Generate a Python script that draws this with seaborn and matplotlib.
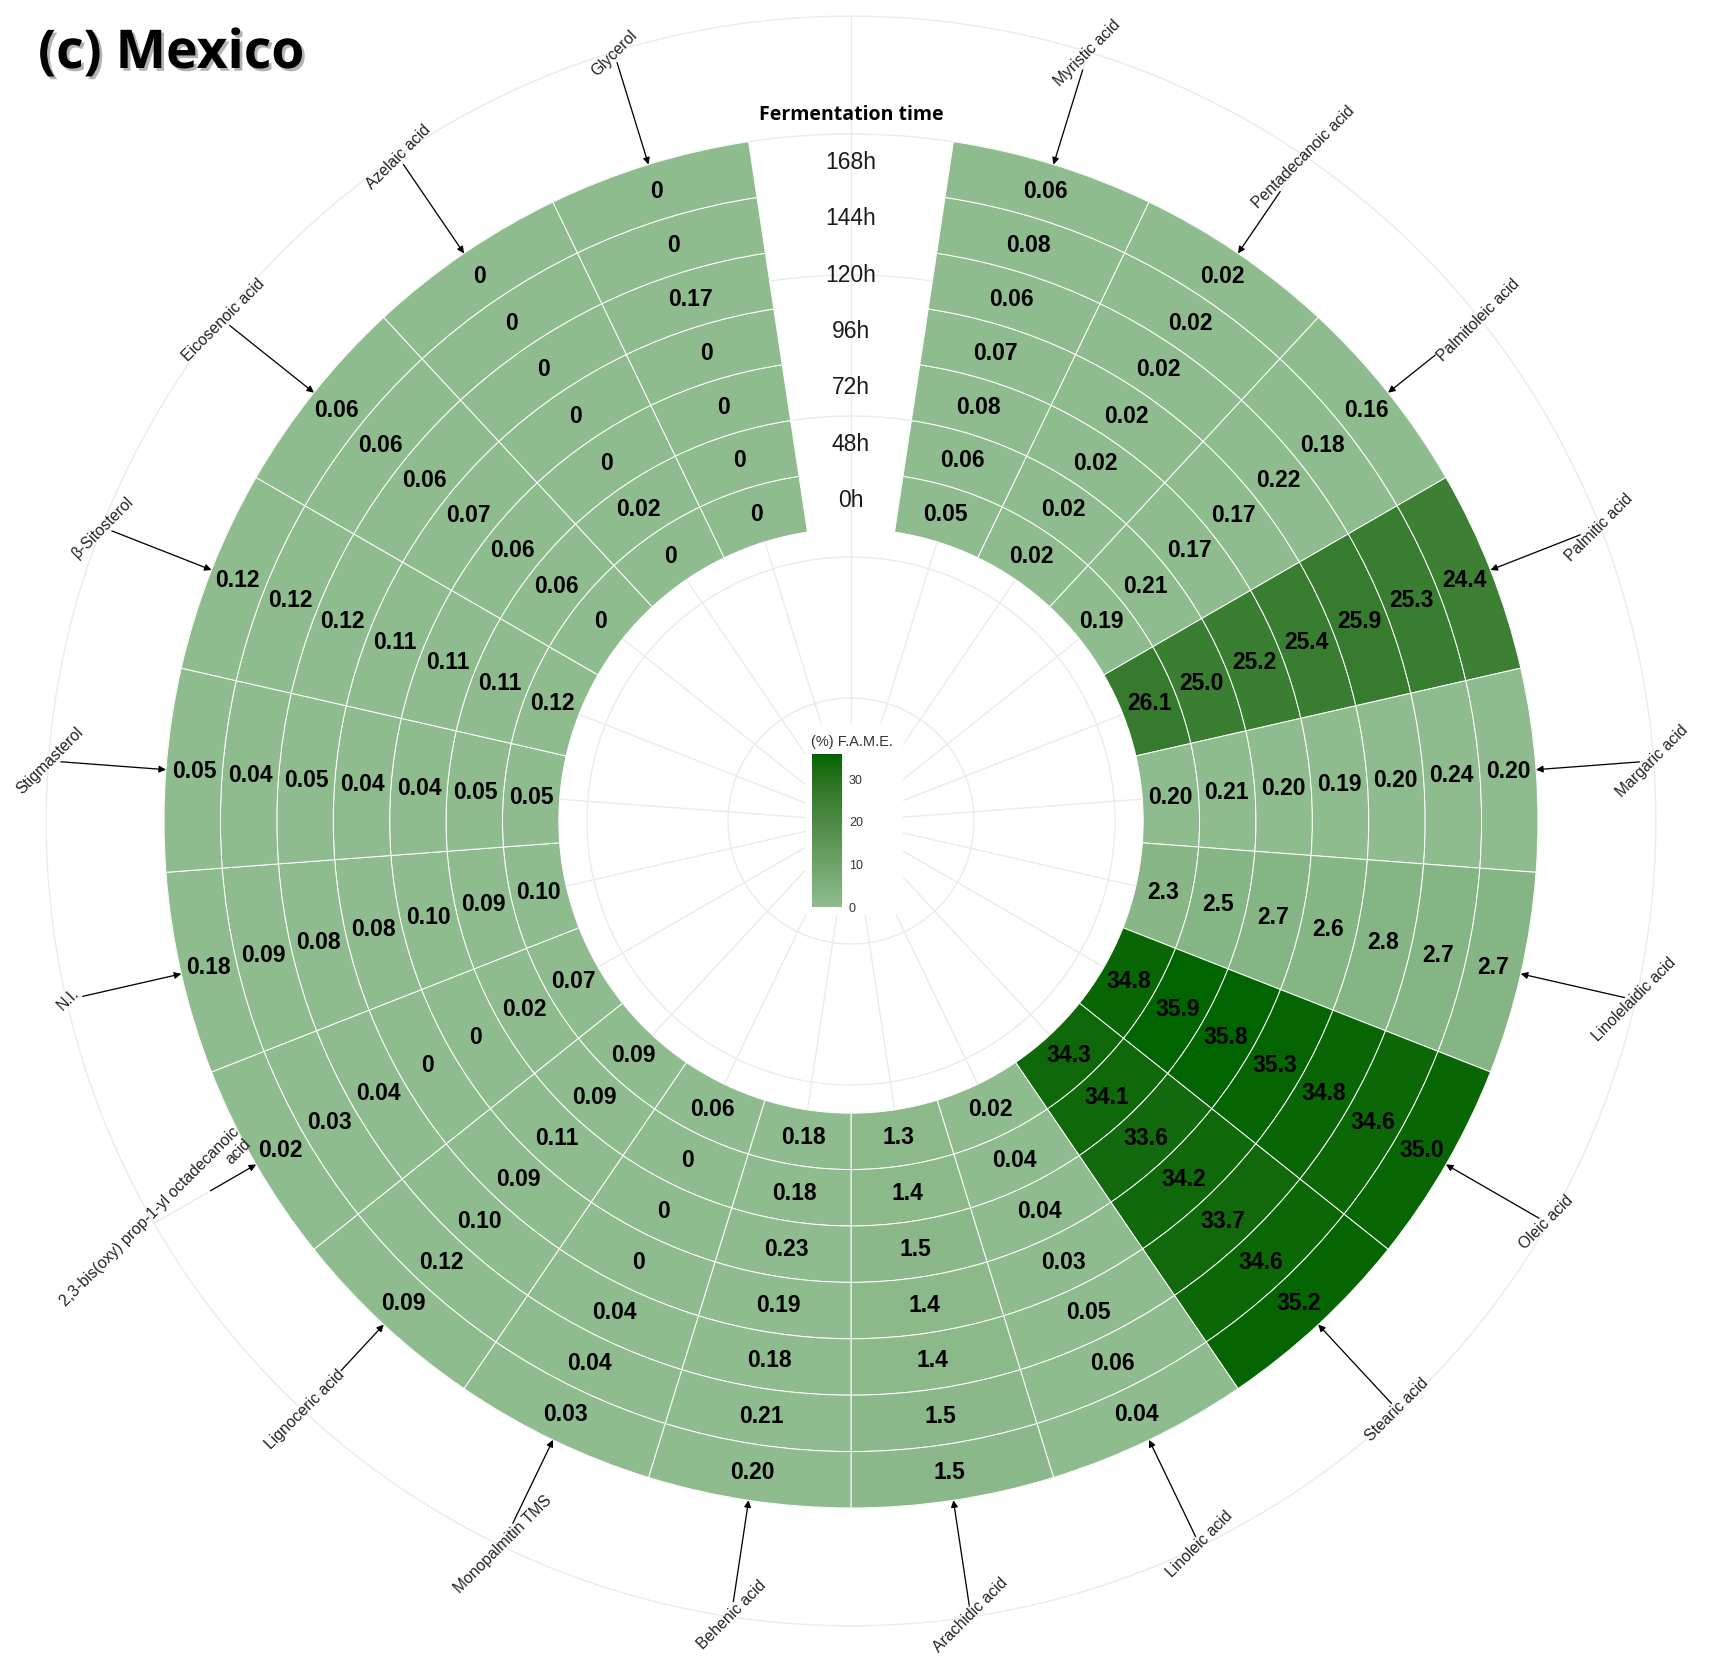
import numpy as np
import pandas as pd
import matplotlib
matplotlib.use("Agg")
import matplotlib.pyplot as plt
import matplotlib.patheffects as pe
from matplotlib.colors import Normalize, ListedColormap
from matplotlib.cm import ScalarMappable
from matplotlib.patches import Rectangle
import seaborn as sns

# fermentation times, inner ring -> outer ring
hours = ["0h", "48h", "72h", "96h", "120h", "144h", "168h"]

# compounds clockwise from the top gap
compounds = ["Myristic acid", "Pentadecanoic acid", "Palmitoleic acid", "Palmitic acid",
             "Margaric acid", "Linolelaidic acid", "Oleic acid", "Stearic acid",
             "Linoleic acid", "Arachidic acid", "Behenic acid", "Monopalmitin TMS",
             "Lignoceric acid", "2,3-bis(oxy) prop-1-yl octadecanoic\nacid", "N.I.",
             "Stigmasterol", "β-Sitosterol", "Eicosenoic acid", "Azelaic acid", "Glycerol"]

# % F.A.M.E. per compound, 0h -> 168h
myristic = [0.05, 0.06, 0.08, 0.07, 0.06, 0.08, 0.06]
pentadecanoic = [0.02, 0.02, 0.02, 0.02, 0.02, 0.02, 0.02]
palmitoleic = [0.19, 0.21, 0.17, 0.17, 0.22, 0.18, 0.16]
palmitic = [26.1, 25.0, 25.2, 25.4, 25.9, 25.3, 24.4]
margaric = [0.20, 0.21, 0.20, 0.19, 0.20, 0.24, 0.20]
linolelaidic = [2.3, 2.5, 2.7, 2.6, 2.8, 2.7, 2.7]
oleic = [34.8, 35.9, 35.8, 35.3, 34.8, 34.6, 35.0]
stearic = [34.3, 34.1, 33.6, 34.2, 33.7, 34.6, 35.2]
linoleic = [0.02, 0.04, 0.04, 0.03, 0.05, 0.06, 0.04]
arachidic = [1.3, 1.4, 1.5, 1.4, 1.4, 1.5, 1.5]
behenic = [0.18, 0.18, 0.23, 0.19, 0.18, 0.21, 0.20]
monopalmitin = [0.06, 0, 0, 0, 0.04, 0.04, 0.03]
lignoceric = [0.09, 0.09, 0.11, 0.09, 0.10, 0.12, 0.09]
bisoxy = [0.07, 0.02, 0, 0, 0.04, 0.03, 0.02]
not_identified = [0.10, 0.09, 0.10, 0.08, 0.08, 0.09, 0.18]
stigmasterol = [0.05, 0.05, 0.04, 0.04, 0.05, 0.04, 0.05]
sitosterol = [0.12, 0.11, 0.11, 0.11, 0.12, 0.12, 0.12]
eicosenoic = [0, 0.06, 0.06, 0.07, 0.06, 0.06, 0.06]
azelaic = [0, 0.02, 0, 0, 0, 0, 0]
glycerol = [0, 0, 0, 0, 0.17, 0, 0]

values = [myristic, pentadecanoic, palmitoleic, palmitic, margaric, linolelaidic,
          oleic, stearic, linoleic, arachidic, behenic, monopalmitin, lignoceric,
          bisoxy, not_identified, stigmasterol, sitosterol, eicosenoic, azelaic, glycerol]

sns.set_theme(style="white")
plt.rcParams["font.family"] = ["Liberation Sans", "DejaVu Sans"]

rows = []
for i, (name, vals) in enumerate(zip(compounds, values)):
    for j, v in enumerate(vals):
        rows.append({"compound": name, "slot": i + 1, "ring": j, "hour": hours[j], "value": v})
df = pd.DataFrame(rows)

n_slots = len(compounds) + 1          # one empty slot gives the gap at the top
step = 2 * np.pi / n_slots
df["theta"] = df["slot"] * step

HOLE = -5.18
R_MAX = 9.3
R_OUT = 9.09
R_LABEL = 9.06


# gradient interpolated in CIELAB, like ggplot's scale_fill_gradient
M = np.array([[0.4124, 0.3576, 0.1805], [0.2126, 0.7152, 0.0722], [0.0193, 0.1192, 0.9505]])
WHITE = np.array([0.95047, 1.0, 1.08883])


def to_lab(rgb):
    c = np.asarray(rgb, float)
    lin = np.where(c > 0.04045, ((c + 0.055) / 1.055) ** 2.4, c / 12.92)
    xyz = M @ lin / WHITE
    f = np.where(xyz > (6 / 29) ** 3, np.cbrt(xyz), xyz / (3 * (6 / 29) ** 2) + 4 / 29)
    return np.array([116 * f[1] - 16, 500 * (f[0] - f[1]), 200 * (f[1] - f[2])])


def from_lab(lab):
    fy = (lab[0] + 16) / 116
    f = np.array([fy + lab[1] / 500, fy, fy - lab[2] / 200])
    xyz = np.where(f > 6 / 29, f ** 3, 3 * (6 / 29) ** 2 * (f - 4 / 29)) * WHITE
    lin = np.linalg.solve(M, xyz)
    c = np.where(lin > 0.0031308, 1.055 * np.clip(lin, 0, None) ** (1 / 2.4) - 0.055, 12.92 * lin)
    return np.clip(c, 0, 1)


low, high = sns.color_palette(["#8FBC8F", "#006400"])
lab_lo, lab_hi = to_lab(low), to_lab(high)
cmap = ListedColormap([from_lab(lab_lo + t * (lab_hi - lab_lo)) for t in np.linspace(0, 1, 256)])
norm = Normalize(0, df["value"].max())


def fmt(v):
    if v == 0:
        return "0"
    return f"{v:.1f}" if v >= 1 else f"{v:.2f}"


fig = plt.figure(figsize=(17.11, 16.72), dpi=100)
fig.patch.set_facecolor("white")
ax = fig.add_axes([0.02005, 0.02052, 0.95465, 0.97691], projection="polar")
ax.set_theta_zero_location("N")
ax.set_theta_direction(-1)
ax.set_ylim(HOLE, R_MAX)
ax.grid(False)
ax.set_xticks([])
ax.set_yticks([])
ax.spines["polar"].set_visible(False)
ax.set_facecolor("white")

# background grid
circ = np.linspace(0, 2 * np.pi, 600)
for r in [-3, -0.5, 2, 4.5, 7, R_OUT]:
    ax.plot(circ, np.full_like(circ, r), color="#ebebeb", lw=1.0, zorder=0)
for k in range(n_slots):
    ax.plot([k * step, k * step], [HOLE, R_OUT], color="#ebebeb", lw=1.0, zorder=0)

# tiles
ax.bar(df["theta"], 1, width=step, bottom=df["ring"], align="center",
       color=cmap(norm(df["value"])), edgecolor="white", linewidth=0.7, zorder=2)

for _, row in df.iterrows():
    ax.text(row["theta"], row["ring"] + 0.5, fmt(row["value"]), ha="center", va="center",
            fontsize=16.5, fontweight="bold", color="black", zorder=4)

# hour labels in the gap
for j, h in enumerate(hours):
    ax.text(0, j + 0.5, h, ha="center", va="center", fontsize=16.5, color="#1a1a1a", zorder=4)
ax.text(0, 7.34, "Fermentation time", ha="center", va="center", fontsize=14,
        fontweight="bold", family=["Open Sans", "DejaVu Sans"], color="black", zorder=4)

# compound labels; arrows stop at the edge of the rotated label box
labels = []
for i, name in enumerate(compounds):
    th = (i + 1) * step
    t = ax.text(th, R_LABEL, name, rotation=0, rotation_mode="anchor", ha="center",
                va="center", multialignment="right", fontsize=11.3, color="#222222", zorder=5)
    labels.append((th, t))

fig.canvas.draw()
renderer = fig.canvas.get_renderer()
px_per_unit = ax.bbox.width / 2 / (R_MAX - HOLE)
for th, t in labels:
    bb = t.get_window_extent(renderer)
    hw, hh = bb.width / 2, bb.height / 2
    t.set_rotation(45)
    delta = np.radians(90 - np.degrees(th) - 45)
    c, s = abs(np.cos(delta)), abs(np.sin(delta))
    d = min(hw / c if c > 1e-6 else np.inf, hh / s if s > 1e-6 else np.inf) + 1
    ax.annotate("", xy=(th, 7.0), xytext=(th, R_LABEL - d / px_per_unit),
                arrowprops=dict(arrowstyle="-|>", color="black", lw=0.9,
                                mutation_scale=10, shrinkA=0, shrinkB=0), zorder=5)

# legend in the hole
bg = Rectangle((805 / 1711, (1672 - 915) / 1672), 98 / 1711, 191 / 1672,
               transform=fig.transFigure, facecolor="white", edgecolor="none", zorder=1)
fig.add_artist(bg)
cax = fig.add_axes([812 / 1711, (1672 - 907) / 1672, 30 / 1711, 153 / 1672])
cax.set_zorder(3)
cb = fig.colorbar(ScalarMappable(norm=norm, cmap=cmap), cax=cax)
cb.outline.set_visible(False)
cb.set_ticks([0, 10, 20, 30])
cax.tick_params(direction="in", colors="white", length=3.6, width=1, left=True, right=True,
                labelsize=9, labelcolor="#333333", pad=5)
fig.text(811 / 1711, 1 - 742 / 1672, "(%) F.A.M.E.", ha="left", va="center",
         fontsize=10.5, color="#333333", zorder=4)

fig.text(38 / 1711, 1 - 54 / 1672, "(c) Mexico", ha="left", va="center", fontsize=38.5,
         fontweight="bold", family=["Open Sans", "DejaVu Sans"], color="black",
         path_effects=[pe.withSimplePatchShadow(offset=(2, -2), shadow_rgbFace="black", alpha=0.3)])

fig.savefig("out.png", dpi=100, facecolor="white")
